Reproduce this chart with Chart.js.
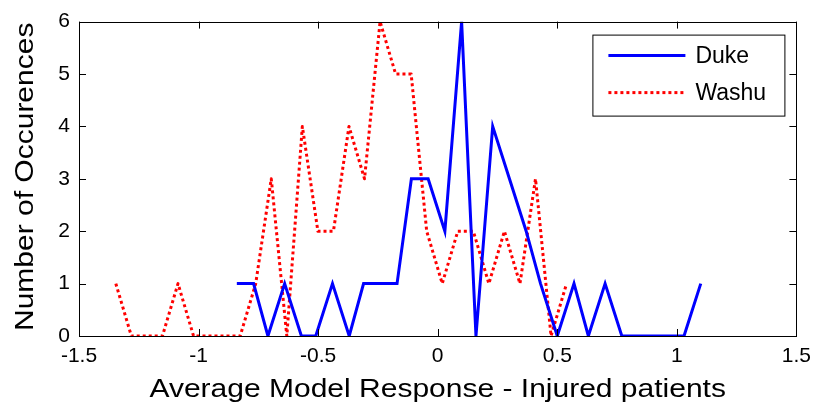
<!DOCTYPE html>
<html>
<head>
<meta charset="utf-8">
<script src="https://cdn.jsdelivr.net/npm/chart.js@4"></script>
<style>
  html, body { margin: 0; padding: 0; background: #fff; }
  #wrap { width: 819px; height: 412px; }
</style>
</head>
<body>
<div id="wrap"><canvas id="histChart" width="819" height="412"></canvas></div>
<script>
// bin centres and counts for each site
const dukeX = [-0.84, -0.77, -0.71, -0.64, -0.57, -0.51, -0.44, -0.37, -0.31, -0.24,
               -0.17, -0.11, -0.04, 0.03, 0.10, 0.16, 0.23, 0.30, 0.37, 0.43,
               0.50, 0.57, 0.63, 0.70, 0.77, 0.83, 0.90, 0.97, 1.03, 1.10];
const dukeCounts = [1, 1, 0, 1, 0, 0, 1, 0, 1, 1,
                    1, 3, 3, 2, 6, 0, 4, 3, 2, 1,
                    0, 1, 0, 1, 0, 0, 0, 0, 0, 1];

const washuX = [-1.346, -1.281, -1.216, -1.151, -1.086, -1.021, -0.956, -0.891, -0.826, -0.761,
                -0.696, -0.631, -0.566, -0.501, -0.436, -0.371, -0.306, -0.241, -0.176, -0.111,
                -0.046, 0.019, 0.084, 0.149, 0.214, 0.279, 0.344, 0.409, 0.474, 0.539];
const washuCounts = [1, 0, 0, 0, 1, 0, 0, 0, 0, 1,
                     3, 0, 4, 2, 2, 4, 3, 6, 5, 5,
                     2, 1, 2, 2, 1, 2, 1, 3, 0, 1];

const xTicks = [-1.5, -1, -0.5, 0, 0.5, 1, 1.5];
const yTicks = [0, 1, 2, 3, 4, 5, 6];

const xTitle = 'Average Model Response - Injured patients';
const yTitle = 'Number of Occurences';

const FONT = '"Liberation Sans", Arial, sans-serif';

const toPoints = (xs, ys) => xs.map((x, i) => ({ x: x, y: ys[i] }));

// wide label text: draw at 25px and stretch along the text direction
function wideText(ctx, text, x, y, angle) {
    ctx.save();
    ctx.translate(x, y);
    ctx.rotate(angle);
    ctx.scale(1.2, 1);
    ctx.font = '25px ' + FONT;
    ctx.fillStyle = '#000';
    ctx.textAlign = 'center';
    ctx.textBaseline = 'alphabetic';
    ctx.fillText(text, 0, 0);
    ctx.restore();
}

// matlab style frame: full box with inward tick marks, legend inside top right
const axesBox = {
    id: 'axesBox',
    afterDatasetsDraw(chart) {
        const { ctx, chartArea: a, scales } = chart;
        const tl = 7;
        ctx.save();
        ctx.strokeStyle = '#000';
        ctx.lineWidth = 1;
        ctx.beginPath();
        xTicks.forEach(v => {
            const px = Math.round(scales.x.getPixelForValue(v)) + 0.5;
            ctx.moveTo(px, a.bottom); ctx.lineTo(px, a.bottom - tl);
            ctx.moveTo(px, a.top); ctx.lineTo(px, a.top + tl);
        });
        yTicks.forEach(v => {
            const py = Math.round(scales.y.getPixelForValue(v)) + 0.5;
            ctx.moveTo(a.left, py); ctx.lineTo(a.left + tl, py);
            ctx.moveTo(a.right, py); ctx.lineTo(a.right - tl, py);
        });
        ctx.stroke();
        ctx.strokeRect(Math.round(a.left) + 0.5, Math.round(a.top) + 0.5,
                       Math.round(a.right - a.left), Math.round(a.bottom - a.top));

        // legend
        const bx = a.right - 204, by = a.top + 13, bw = 192, bh = 81;
        ctx.fillStyle = '#fff';
        ctx.fillRect(bx, by, bw, bh);
        ctx.strokeRect(bx + 0.5, by + 0.5, bw, bh);
        ctx.font = '23px ' + FONT;
        ctx.textBaseline = 'middle';
        chart.data.datasets.forEach((ds, i) => {
            const y = by + 21 + i * 37;
            ctx.beginPath();
            ctx.strokeStyle = ds.borderColor;
            ctx.lineWidth = ds.borderWidth;
            ctx.setLineDash(ds.borderDash || []);
            ctx.moveTo(bx + 16, y);
            ctx.lineTo(bx + 93, y);
            ctx.stroke();
            ctx.setLineDash([]);
            ctx.fillStyle = '#000';
            ctx.fillText(ds.label, bx + 103, y + 1);
        });
        ctx.restore();

        // axis titles
        const cx = (a.left + a.right) / 2, cy = (a.top + a.bottom) / 2;
        wideText(ctx, xTitle, cx, a.bottom + 61, 0);
        wideText(ctx, yTitle, 33, cy - 2, -Math.PI / 2);
    }
};

new Chart(document.getElementById('histChart'), {
    type: 'scatter',
    data: {
        datasets: [{
            label: 'Duke',
            data: toPoints(dukeX, dukeCounts),
            showLine: true,
            borderColor: '#0000ff',
            borderWidth: 3,
            pointRadius: 0,
            tension: 0
        }, {
            label: 'Washu',
            data: toPoints(washuX, washuCounts),
            showLine: true,
            borderColor: '#ff0000',
            borderWidth: 3,
            borderDash: [3, 3],
            borderJoinStyle: 'round',
            pointRadius: 0,
            tension: 0
        }]
    },
    options: {
        responsive: false,
        animation: false,
        layout: { padding: { left: 0, right: 19, top: 19, bottom: 0 } },
        plugins: {
            legend: { display: false },
            tooltip: { enabled: false }
        },
        scales: {
            x: {
                type: 'linear',
                min: -1.5,
                max: 1.5,
                afterFit: s => { s.height = 76; },
                afterBuildTicks: s => { s.ticks = xTicks.map(v => ({ value: v })); },
                grid: { display: false, drawTicks: false },
                border: { display: false },
                ticks: {
                    padding: 8,
                    color: '#000',
                    font: { family: FONT, size: 21 },
                    callback: v => `${v}`
                }
            },
            y: {
                min: 0,
                max: 6,
                afterFit: s => { s.width = 79; },
                afterBuildTicks: s => { s.ticks = yTicks.map(v => ({ value: v })); },
                grid: { display: false, drawTicks: false },
                border: { display: false },
                ticks: {
                    padding: 9,
                    color: '#000',
                    font: { family: FONT, size: 21 }
                }
            }
        }
    },
    plugins: [axesBox]
});
</script>
</body>
</html>
